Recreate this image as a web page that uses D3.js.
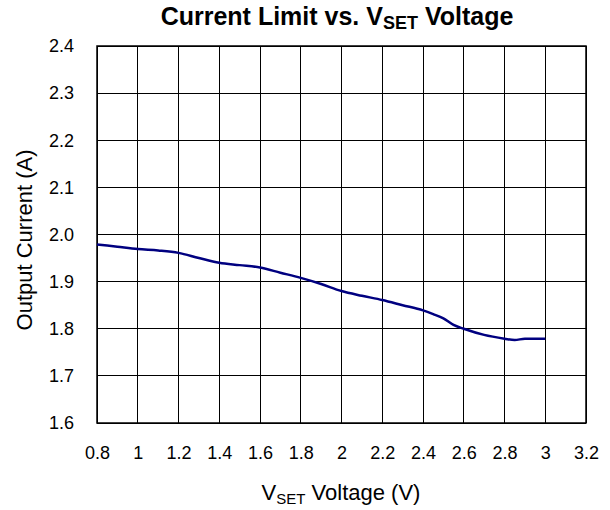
<!DOCTYPE html>
<html>
<head>
<meta charset="utf-8">
<script src="https://cdn.jsdelivr.net/npm/d3@7"></script>
<style>
  body { margin: 0; background: #fff; }
  svg text { font-family: "Liberation Sans", Arial, sans-serif; fill: #000; }
</style>
</head>
<body>
<svg id="chart" width="610" height="510"></svg>
<script>
// data
const vset = [0.8, 0.9, 1.0, 1.1, 1.2, 1.3, 1.4, 1.5, 1.6, 1.7, 1.8, 1.9, 2.0, 2.1, 2.2, 2.3, 2.4, 2.45, 2.5, 2.55, 2.6, 2.7, 2.8, 2.85, 2.9, 3.0];
const current = [1.979, 1.974, 1.969, 1.966, 1.961, 1.950, 1.940, 1.935, 1.930, 1.919, 1.908, 1.895, 1.880, 1.870, 1.861, 1.850, 1.839, 1.831, 1.822, 1.808, 1.800, 1.787, 1.779, 1.776, 1.779, 1.779];
const xTicks = [0.8, 1, 1.2, 1.4, 1.6, 1.8, 2, 2.2, 2.4, 2.6, 2.8, 3, 3.2];
const yTicks = [1.6, 1.7, 1.8, 1.9, 2.0, 2.1, 2.2, 2.3, 2.4];

const margin = {top: 46, right: 24, bottom: 87, left: 97};
const width = 610 - margin.left - margin.right;
const height = 510 - margin.top - margin.bottom;

const svg = d3.select('#chart');
const g = svg.append('g').attr('transform', `translate(${margin.left},${margin.top})`);

const x = d3.scaleLinear().domain([0.8, 3.2]).range([0, width]);
const y = d3.scaleLinear().domain([1.6, 2.4]).range([height, 0]);

// vertical gridlines
g.append('g')
    .selectAll('line')
    .data(xTicks)
    .enter()
    .append('line')
    .attr('x1', d => x(d)).attr('x2', d => x(d))
    .attr('y1', 0).attr('y2', height)
    .attr('stroke', '#000')
    .attr('stroke-width', 1)
    .attr('shape-rendering', 'crispEdges');

// horizontal gridlines
g.append('g')
    .selectAll('line')
    .data(yTicks)
    .enter()
    .append('line')
    .attr('x1', 0).attr('x2', width)
    .attr('y1', d => y(d)).attr('y2', d => y(d))
    .attr('stroke', '#000')
    .attr('stroke-width', 1)
    .attr('shape-rendering', 'crispEdges');

// frame
g.append('rect')
    .attr('width', width).attr('height', height)
    .attr('fill', 'none')
    .attr('stroke', '#000')
    .attr('stroke-width', 1.5);

// x tick labels
g.append('g')
    .attr('transform', `translate(0,${height})`)
    .call(d3.axisBottom(x).tickValues(xTicks).tickSize(0).tickPadding(23).tickFormat(d3.format('~g')))
    .call(a => a.select('.domain').remove())
    .selectAll('text')
    .style('font-size', '18px')
    .style('font-family', '"Liberation Sans", Arial, sans-serif');

// y tick labels
g.append('g')
    .call(d3.axisLeft(y).tickValues(yTicks).tickSize(0).tickPadding(23).tickFormat(d3.format('.1f')))
    .call(a => a.select('.domain').remove())
    .selectAll('text')
    .style('font-size', '18px')
    .style('font-family', '"Liberation Sans", Arial, sans-serif');

// data line
const pts = vset.map((v, i) => [v, current[i]]);
g.append('path')
    .datum(pts)
    .attr('fill', 'none')
    .attr('stroke', '#000080')
    .attr('stroke-width', 2.5)
    .attr('stroke-linejoin', 'round')
    .attr('d', d3.line().x(d => x(d[0])).y(d => y(d[1])).curve(d3.curveMonotoneX));

// title
const title = svg.append('text')
    .attr('x', 337).attr('y', 25)
    .attr('text-anchor', 'middle')
    .style('font-size', '25px')
    .style('font-weight', 'bold');
title.append('tspan').text('Current Limit vs. V');
title.append('tspan').attr('dy', 4).style('font-size', '18px').text('SET');
title.append('tspan').attr('dy', -4).text(' Voltage');

// x axis title
const xt = svg.append('text')
    .attr('x', 341).attr('y', 500)
    .attr('text-anchor', 'middle')
    .style('font-size', '22px');
xt.append('tspan').text('V');
xt.append('tspan').attr('dy', 4).style('font-size', '15px').text('SET');
xt.append('tspan').attr('dy', -4).text(' Voltage (V)');

// y axis title
svg.append('text')
    .attr('transform', `translate(32,240) rotate(-90)`)
    .attr('text-anchor', 'middle')
    .style('font-size', '22px')
    .text('Output Current (A)');
</script>
</body>
</html>
